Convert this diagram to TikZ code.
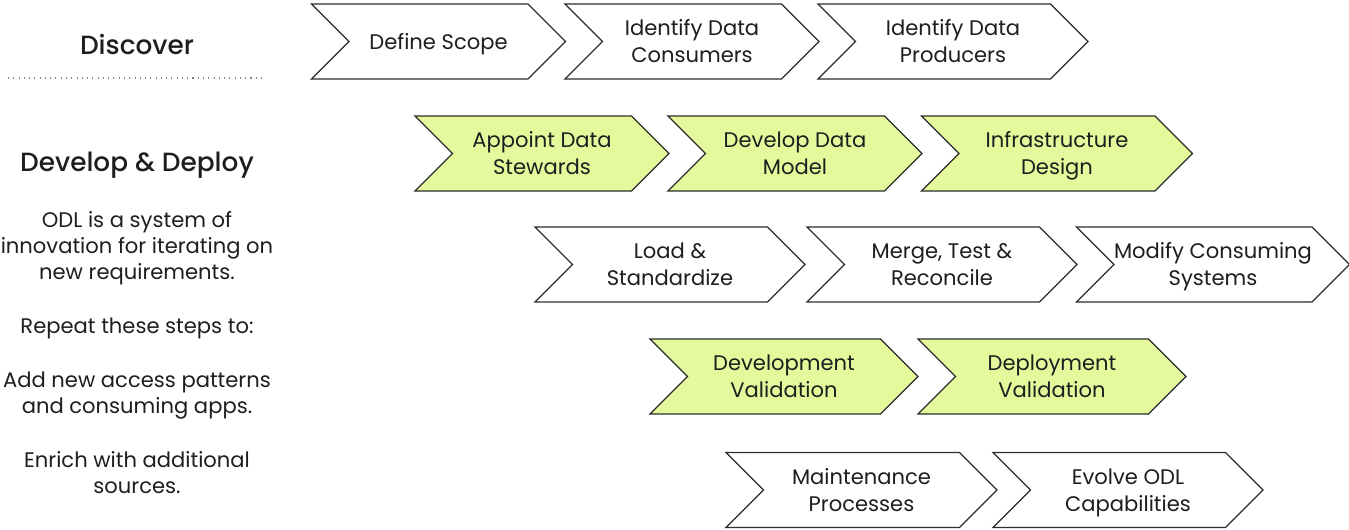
\documentclass[tikz,border=0pt]{standalone}
\usepackage{fontspec}
\setmainfont{Poppins}
\newfontfamily\headfont{Poppins Medium}
\usetikzlibrary{shapes.symbols}
\definecolor{ink}{RGB}{30,30,30}
\definecolor{outline}{RGB}{45,45,45}
\definecolor{lime}{RGB}{228,249,155}
\definecolor{dotgray}{RGB}{130,130,130}

\begin{document}
\begin{tikzpicture}[x=0.02cm, y=-0.02cm,
  every node/.style={font=\fontsize{12}{14.8}\selectfont, text=ink, align=center},
  heading/.style={font=\headfont\fontsize{15}{18}\selectfont, anchor=base},
  chev/.style={signal, signal to=east, signal from=west, signal pointer angle=90,
    draw=outline, line width=0.75pt, fill=white, inner sep=0pt, outer sep=0pt,
    minimum height=1.5cm, font=\fontsize{12}{15.2}\selectfont,
    text height=24pt, text depth=0pt},
  keystep/.style={chev, fill=lime},
  rule/.style={dotgray, line width=0.6pt, dash pattern=on 0.6pt off 2.4pt}
]
  \useasboundingbox (0,0) rectangle (1349,529);

  \node[heading] (discover) at (137,54)  {Discover};
  \node[heading] (deploy)   at (137,171) {Develop \& Deploy};
  \draw[rule] (8,78) -- (262,78);
  \node[anchor=north] (note) at (137,205) {ODL is a system of\\innovation for iterating on\\new requirements.\\[16pt]
    Repeat these steps to:\\[16pt]
    Add new access patterns\\and consuming apps.\\[16pt]
    Enrich with additional\\sources.};

  \node[chev, minimum width=5.08cm, text height=9pt] (scope) at (438.5,41.5) {Define Scope};
  \node[chev, minimum width=5.08cm] (consumers) at (692,41.5)   {Identify Data\\Consumers};
  \node[chev, minimum width=5.4cm]  (producers) at (953,41.5)   {Identify Data\\Producers};

  \node[keystep, minimum width=5.08cm] (stewards) at (542,153.5)  {Appoint Data\\Stewards};
  \node[keystep, minimum width=5.08cm] (model)    at (795,153.5)  {Develop Data\\Model};
  \node[keystep, minimum width=5.42cm] (infra)    at (1057,153.5) {Infrastructure\\Design};

  \node[chev, minimum width=5.4cm] (load)   at (670,264.5)  {Load \&\\Standardize};
  \node[chev, minimum width=5.4cm] (merge)  at (942,264.5)  {Merge, Test \&\\Reconcile};
  \node[chev, minimum width=5.36cm] (modify) at (1213,264.5) {Modify Consuming\\Systems};

  \node[keystep, minimum width=5.36cm] (devval) at (784,376.5)  {Development\\Validation};
  \node[keystep, minimum width=5.36cm] (depval) at (1052,376.5) {Deployment\\Validation};

  \node[chev, minimum width=5.42cm] (maint)  at (861.5,490) {Maintenance\\Processes};
  \node[chev, minimum width=5.4cm]  (evolve) at (1128,490)  {Evolve ODL\\Capabilities};
\end{tikzpicture}
\end{document}
